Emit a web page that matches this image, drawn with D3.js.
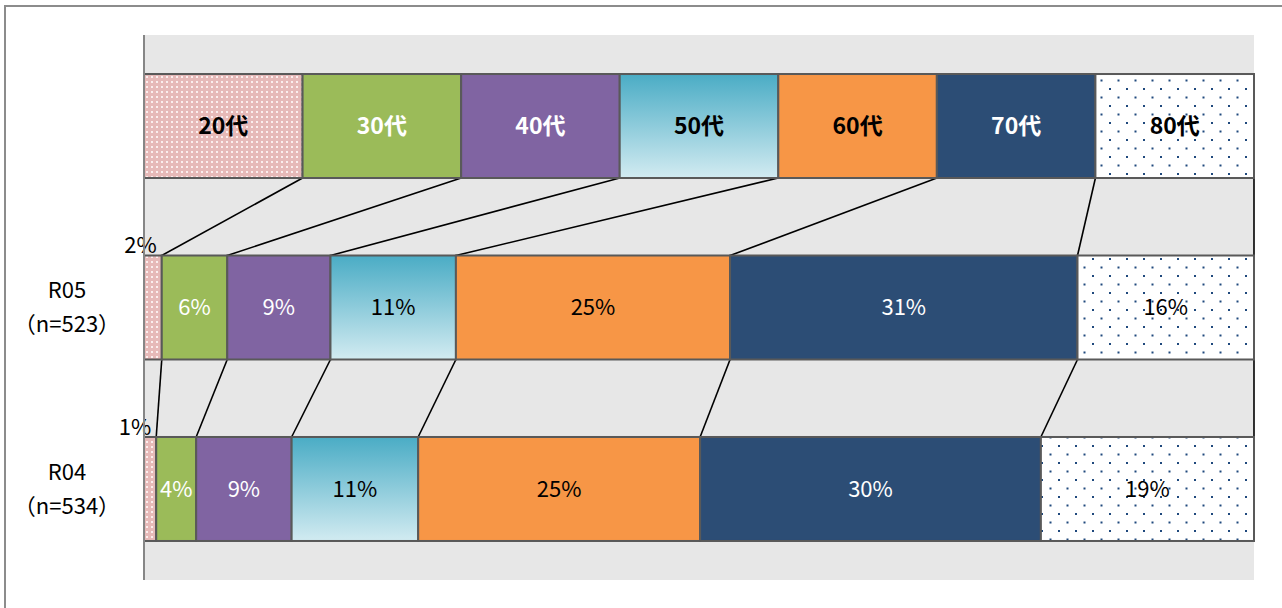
<!DOCTYPE html>
<html>
<head>
<meta charset="utf-8">
<script src="https://cdn.jsdelivr.net/npm/d3@7"></script>
<style>
  body { margin: 0; background: #fff; }
  svg text { font-family: "Noto Sans CJK JP", "Noto Sans", sans-serif; }
</style>
</head>
<body>
<div id="chart"></div>
<script>
// Data
const ages = ['20代', '30代', '40代', '50代', '60代', '70代', '80代'];
const rowNames = ['R05', 'R04'];
const rowNotes = ['（n=523）', '（n=534）'];
const r05 = [1.6, 5.9, 9.3, 11.3, 24.7, 31.3, 15.9];
const r04 = [1.1, 3.6, 8.6, 11.4, 25.4, 30.7, 19.2];
const r05Labels = ['2%', '6%', '9%', '11%', '25%', '31%', '16%'];
const r04Labels = ['1%', '4%', '9%', '11%', '25%', '30%', '19%'];

const W = 1282, H = 608;
const svg = d3.select('#chart').append('svg')
    .attr('width', W).attr('height', H);

// fills
const defs = svg.append('defs');
const grad = defs.append('linearGradient').attr('id', 'g50')
    .attr('x1', 0).attr('y1', 0).attr('x2', 0).attr('y2', 1);
grad.append('stop').attr('offset', '0%').attr('stop-color', '#4aacc5');
grad.append('stop').attr('offset', '100%').attr('stop-color', '#d2ebf1');

const p20 = defs.append('pattern').attr('id', 'p20')
    .attr('patternUnits', 'userSpaceOnUse').attr('width', 5).attr('height', 5);
p20.append('rect').attr('width', 5).attr('height', 5).attr('fill', '#e6b9b8');
p20.append('rect').attr('x', 1).attr('y', 1).attr('width', 2).attr('height', 2).attr('fill', '#fbeeee');

const p80 = defs.append('pattern').attr('id', 'p80')
    .attr('patternUnits', 'userSpaceOnUse').attr('width', 17).attr('height', 17);
p80.append('rect').attr('width', 17).attr('height', 17).attr('fill', '#fff');
p80.append('rect').attr('x', 4).attr('y', 3).attr('width', 2).attr('height', 2).attr('fill', '#1f497d');
p80.append('rect').attr('x', 12.5).attr('y', 11.5).attr('width', 2).attr('height', 2).attr('fill', '#1f497d');

const fills = ['url(#p20)', '#9bbb59', '#8064a2', 'url(#g50)', '#f79646', '#2c4d75', 'url(#p80)'];
const darkFill = [false, true, true, false, false, true, false];

// frame
svg.append('rect').attr('x', 5).attr('y', 6).attr('width', W + 10).attr('height', H + 10)
    .attr('fill', 'none').attr('stroke', '#8c8c8c').attr('stroke-width', 2);

// scales
const x = d3.scaleLinear().domain([0, 100]).range([144, 1254]);
const y = d3.scaleBand().domain(['legend', ...rowNames]).range([35, 580])
    .paddingInner(0.427).paddingOuter(0.215);

svg.append('rect').attr('x', 144).attr('y', 35).attr('width', 1110).attr('height', 545)
    .attr('fill', '#e7e7e7');

// stacked rows
const legendVals = ages.map(() => 100 / ages.length);
const rows = [
    { key: 'legend', vals: legendVals, labels: ages },
    { key: 'R05', vals: r05, labels: r05Labels },
    { key: 'R04', vals: r04, labels: r04Labels }
];
rows.forEach(r => {
    let c = 0;
    r.segs = r.vals.map((v, i) => {
        const s = { i, x0: c, x1: c + v, v, label: r.labels[i] };
        c += v;
        return s;
    });
});

// series lines
for (let k = 0; k < rows.length - 1; k++) {
    const a = rows[k], b = rows[k + 1];
    svg.append('g').selectAll('line')
        .data(a.segs)
        .join('line')
        .attr('x1', d => x(d.x1))
        .attr('y1', y(a.key) + y.bandwidth())
        .attr('x2', (d, i) => x(b.segs[i].x1))
        .attr('y2', y(b.key))
        .attr('stroke', '#000').attr('stroke-width', 1.6);
}

rows.forEach(r => {
    const g = svg.append('g');
    g.selectAll('rect')
        .data(r.segs)
        .join('rect')
        .attr('x', d => x(d.x0))
        .attr('y', y(r.key))
        .attr('width', d => x(d.x1) - x(d.x0))
        .attr('height', y.bandwidth())
        .attr('fill', d => fills[d.i])
        .attr('stroke', '#595959').attr('stroke-width', 2);

    const isLegend = r.key === 'legend';
    const small = d => !isLegend && d.v < 2;
    g.selectAll('text')
        .data(r.segs)
        .join('text')
        .attr('x', d => small(d) ? x(d.x1) - 5 : (x(d.x0) + x(d.x1)) / 2)
        .attr('y', d => small(d) ? y(r.key) - 10 : y(r.key) + y.bandwidth() / 2)
        .attr('dy', '0.35em')
        .attr('text-anchor', d => small(d) ? 'end' : 'middle')
        .attr('font-size', isLegend ? 23 : 22)
        .attr('font-weight', isLegend ? 'bold' : 'normal')
        .attr('fill', d => small(d) ? '#000' : (darkFill[d.i] ? '#fff' : '#000'))
        .text(d => d.label);
});

// category labels
rowNames.forEach((n, i) => {
    const cy = y(n) + y.bandwidth() / 2;
    svg.append('text').attr('x', 67).attr('y', cy - 17).attr('dy', '0.35em')
        .attr('text-anchor', 'middle').attr('font-size', 22).text(n);
    svg.append('text').attr('x', 67).attr('y', cy + 17).attr('dy', '0.35em')
        .attr('text-anchor', 'middle').attr('font-size', 22).text(rowNotes[i]);
});

// axis line
svg.append('line').attr('x1', 144).attr('x2', 144).attr('y1', 35).attr('y2', 580)
    .attr('stroke', '#868686').attr('stroke-width', 2);
</script>
</body>
</html>
